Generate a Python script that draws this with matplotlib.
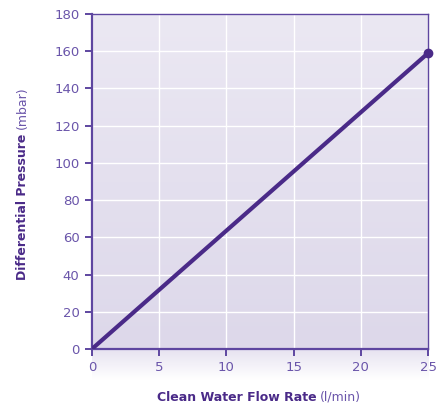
import numpy as np
import matplotlib.pyplot as plt
from matplotlib.colors import LinearSegmentedColormap

# data
flow = [0, 25]          # l/min
pressure = [0, 159]     # mbar
x_ticks = [0, 5, 10, 15, 20, 25]
y_ticks = [0, 20, 40, 60, 80, 100, 120, 140, 160, 180]

purple = "#4a2a88"
frame = "#5e46a0"
tick_col = "#6a55aa"

plt.rcParams['font.family'] = ['DejaVu Sans']

fig = plt.figure(figsize=(4.36, 4.11), dpi=100)

# soft fade under the x axis
bg = fig.add_axes([0.211, 0.075, 0.771, 0.077], zorder=0)
fade = LinearSegmentedColormap.from_list("fade", ["#ffffff", "#e6e2f0"])
bg.imshow(np.linspace(0, 1, 50).reshape(-1, 1), aspect="auto", cmap=fade,
          origin="lower", extent=[0, 1, 0, 1])
bg.axis("off")

ax = fig.add_axes([0.211, 0.151, 0.771, 0.815], zorder=1)
grad = LinearSegmentedColormap.from_list("g", ["#ddd8ea", "#ebe8f3"])
ax.imshow(np.linspace(0, 1, 100).reshape(-1, 1), aspect="auto", cmap=grad,
          origin="lower", extent=[0, 25, 0, 180], zorder=0)

ax.set_xlim(0, 25)
ax.set_ylim(0, 180)
ax.set_xticks(x_ticks)
ax.set_yticks(y_ticks)
ax.set_axisbelow(True)
ax.grid(True, color="white", linewidth=1.0)

ax.plot(flow, pressure, color=purple, linewidth=3, solid_capstyle="round", zorder=3)
ax.plot(flow[-1], pressure[-1], "o", color=purple, markersize=6, zorder=4, clip_on=False)

for side in ["left", "bottom"]:
    ax.spines[side].set_color(frame)
    ax.spines[side].set_linewidth(1.6)
for side in ["top", "right"]:
    ax.spines[side].set_color(frame)
    ax.spines[side].set_linewidth(1.0)

ax.tick_params(colors=frame, labelcolor=tick_col, labelsize=9.5, width=1.4, length=5,
               direction="out", pad=4)

# axis labels: bold part followed by normal part
W, H = 436, 411
r = fig.canvas.get_renderer()
gap = 4
fs = 9

xb = fig.text(0, 0, "Clean Water Flow Rate", color=purple, fontsize=fs,
              fontweight="bold", ha="left", va="center")
xn = fig.text(0, 0, "(l/min)", color=tick_col, fontsize=fs, ha="left", va="center")
wb = xb.get_window_extent(r).width
wn = xn.get_window_extent(r).width
x0 = 259 - (wb + gap + wn) / 2
xb.set_position((x0 / W, 1 - 397 / H))
xn.set_position(((x0 + wb + gap) / W, 1 - 397 / H))

yb = fig.text(0, 0, "Differential Pressure", color=purple, fontsize=fs,
              fontweight="bold", rotation=90, ha="center", va="bottom")
yn = fig.text(0, 0, "(mbar)", color=tick_col, fontsize=fs, rotation=90,
              ha="center", va="bottom")
hb = yb.get_window_extent(r).height
hn = yn.get_window_extent(r).height
y0 = (H - 183) - (hb + gap + hn) / 2
yb.set_position((22 / W, y0 / H))
yn.set_position((22 / W, (y0 + hb + gap) / H))

fig.savefig("out.png", dpi=100)
